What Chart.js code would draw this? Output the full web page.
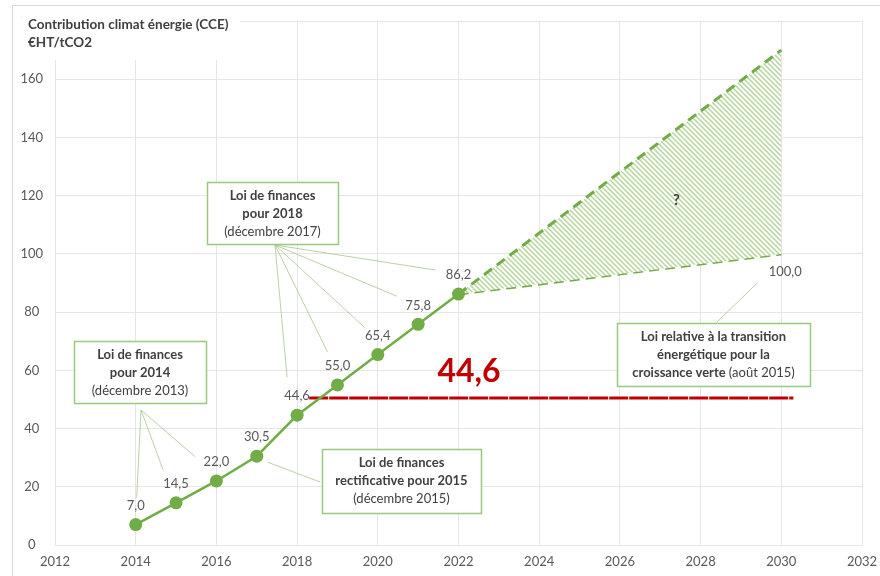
<!DOCTYPE html>
<html>
<head>
<meta charset="utf-8">
<script src="https://cdn.jsdelivr.net/npm/chart.js@4/dist/chart.umd.min.js"></script>
<style>
  html, body { margin: 0; padding: 0; background: #fff; }
  #wrap { width: 880px; height: 576px; }
</style>
</head>
<body>
<div id="wrap"><canvas id="myChart" width="880" height="576"></canvas></div>
<script>
// data
var years = [2014, 2015, 2016, 2017, 2018, 2019, 2020, 2021, 2022];
var cce = [7.0, 14.5, 22.0, 30.5, 44.6, 55.0, 65.4, 75.8, 86.2];
var trendYears = [2022, 2030];
var upperTrend = [86.2, 170];
var lowerTrend = [86.2, 100.0];
var redYears = [2018.3, 2030.3];
var redLevel = [50.5, 50.5];
var yTicks = [0, 20, 40, 60, 80, 100, 120, 140, 160, 180];
var xTicks = [2012, 2014, 2016, 2018, 2020, 2022, 2024, 2026, 2028, 2030, 2032];

function pairs(xs, ys) {
  return xs.map(function (x, i) { return { x: x, y: ys[i] }; });
}
function fmt(v) { return v.toFixed(1).replace('.', ','); }

// hatch pattern for the uncertain area
var pc = document.createElement('canvas');
pc.width = 5; pc.height = 5;
var p = pc.getContext('2d');
p.fillStyle = '#ffffff';
p.fillRect(0, 0, 5, 5);
p.strokeStyle = '#b5d69d';
p.lineWidth = 1.5;
p.beginPath();
p.moveTo(-1, -1); p.lineTo(6, 6);
p.moveTo(-1, 4); p.lineTo(1, 6);
p.moveTo(4, -1); p.lineTo(6, 1);
p.stroke();
var hatch = p.createPattern(pc, 'repeat');

var green = '#70ad47';
var textCol = '#404040';

// boxes with text, leader lines go from an anchor to points (dx,dy from point)
var boxes = [
  { x: 74, y: 341, w: 132, h: 62,
    lines: [[['Loi de finances', true]], [['pour 2014', true]], [['(décembre 2013)', false]]],
    from: [141, 410], to: [[2014, 1, -27], [2015, -13, -33], [2016, -21, -24]] },
  { x: 322, y: 449, w: 159, h: 64,
    lines: [[['Loi de finances', true]], [['rectificative pour 2015', true]], [['(décembre 2015)', false]]],
    from: [320, 482], to: [[2017, 11, 6]] },
  { x: 207, y: 182, w: 131, h: 62,
    lines: [[['Loi de finances', true]], [['pour 2018', true]], [['(décembre 2017)', false]]],
    from: [275, 245], to: [[2018, -10, -38], [2019, -10, -33], [2020, -13, -27], [2021, -21, -28], [2022, -23, -24]] },
  { x: 617, y: 323, w: 193, h: 63,
    lines: [[['Loi relative à la transition', true]], [['énergétique pour la', true]], [['croissance verte ', true], ['(août 2015)', false]]],
    from: [717, 322], to: [['end', -24, 29]] }
];

var overlay = {
  id: 'overlay',
  afterDatasetsDraw: function (chart) {
    var ctx = chart.ctx;
    var xs = chart.scales.x, ys = chart.scales.y;
    ctx.save();
    // leader lines
    ctx.strokeStyle = 'rgba(160,195,135,0.75)';
    ctx.lineWidth = 1;
    boxes.forEach(function (b) {
      b.to.forEach(function (t) {
        var px, py;
        if (t[0] === 'end') {
          px = xs.getPixelForValue(trendYears[1]);
          py = ys.getPixelForValue(lowerTrend[1]);
        } else {
          var i = years.indexOf(t[0]);
          px = xs.getPixelForValue(years[i]);
          py = ys.getPixelForValue(cce[i]);
        }
        ctx.beginPath();
        ctx.moveTo(b.from[0], b.from[1]);
        ctx.lineTo(px + t[1], py + t[2]);
        ctx.stroke();
      });
    });
    // boxes
    boxes.forEach(function (b) {
      ctx.fillStyle = '#fff';
      ctx.fillRect(b.x, b.y, b.w, b.h);
      ctx.strokeStyle = '#9cc77f';
      ctx.lineWidth = 1.5;
      ctx.strokeRect(b.x + 0.5, b.y + 0.5, b.w, b.h);
      ctx.fillStyle = textCol;
      ctx.textBaseline = 'middle';
      b.lines.forEach(function (parts, li) {
        var total = 0;
        parts.forEach(function (pt) {
          ctx.font = (pt[1] ? 'bold ' : '') + '13px Lato';
          total += ctx.measureText(pt[0]).width;
        });
        var cx = b.x + b.w / 2 - total / 2;
        var cy = b.y + 14 + li * 18;
        ctx.textAlign = 'left';
        parts.forEach(function (pt) {
          ctx.font = (pt[1] ? 'bold ' : '') + '13px Lato';
          ctx.fillText(pt[0], cx, cy);
          cx += ctx.measureText(pt[0]).width;
        });
      });
    });
    // value labels
    ctx.font = '13px Lato';
    ctx.fillStyle = '#595959';
    ctx.textAlign = 'center';
    ctx.textBaseline = 'middle';
    chart.getDatasetMeta(0).data.forEach(function (pt, i) {
      ctx.fillText(fmt(cce[i]), pt.x, pt.y - 19);
    });
    var last = chart.getDatasetMeta(2).data[1];
    ctx.fillText(fmt(lowerTrend[1]), last.x + 4, last.y + 18);
    // question mark
    ctx.font = 'bold 15px Lato';
    ctx.fillStyle = textCol;
    ctx.fillText('?', xs.getPixelForValue(2027.4), ys.getPixelForValue(118.5));
    // red figure
    ctx.font = 'bold 32px Lato';
    ctx.fillStyle = '#c00000';
    ctx.fillText('44,6', 469, 372);
    // title with its white backing
    ctx.fillStyle = '#fff';
    ctx.fillRect(22, 10, 218, 50);
    ctx.fillStyle = textCol;
    ctx.textAlign = 'left';
    ctx.font = 'bold 13.5px Lato';
    ctx.fillText('Contribution climat énergie (CCE)', 28, 25);
    ctx.fillText('€HT/tCO2', 28, 43);
    // outer frame
    ctx.strokeStyle = '#d9d9d9';
    ctx.lineWidth = 1;
    ctx.strokeRect(12.5, 5.5, 900, 600);
    ctx.restore();
  }
};

var ctx = document.getElementById('myChart');
var chart = new Chart(ctx, {
  type: 'line',
  data: {
    datasets: [
      {
        label: 'CCE',
        data: pairs(years, cce),
        borderColor: green,
        backgroundColor: green,
        borderWidth: 2.5,
        pointRadius: 6.5,
        pointBackgroundColor: green,
        pointBorderWidth: 0,
        order: 0
      },
      {
        label: 'haut',
        data: pairs(trendYears, upperTrend),
        borderColor: green,
        borderWidth: 3,
        borderDash: [10, 6],
        pointRadius: 0,
        fill: '+1',
        backgroundColor: hatch,
        order: 2
      },
      {
        label: 'bas',
        data: pairs(trendYears, lowerTrend),
        borderColor: green,
        borderWidth: 3,
        borderDash: [10, 6],
        pointRadius: 0,
        fill: false,
        order: 2
      },
      {
        label: 'rouge',
        data: pairs(redYears, redLevel),
        borderColor: '#c00000',
        borderWidth: 3,
        borderDash: [19, 1],
        pointRadius: 0,
        fill: false,
        order: 1
      }
    ]
  },
  options: {
    responsive: false,
    animation: false,
    layout: { padding: { left: 10, top: 21, right: 18, bottom: 0 } },
    plugins: { legend: { display: false }, tooltip: { enabled: false } },
    scales: {
      x: {
        type: 'linear',
        min: 2012,
        max: 2032,
        afterBuildTicks: function (s) { s.ticks = xTicks.map(function (v) { return { value: v }; }); },
        afterFit: function (s) { s.height = 31; s.paddingRight = 0; s.paddingLeft = 0; },
        grid: { color: '#e6e6e6', drawTicks: false },
        border: { color: '#e6e6e6' },
        ticks: {
          padding: 9,
          color: '#595959',
          font: { family: 'Lato', size: 13 },
          callback: function (v) { return String(v); }
        }
      },
      y: {
        min: 0,
        max: 180,
        afterBuildTicks: function (s) { s.ticks = yTicks.map(function (v) { return { value: v }; }); },
        afterFit: function (s) { s.width = 45; },
        grid: { color: '#e6e6e6', drawTicks: false },
        border: { color: '#e6e6e6' },
        ticks: {
          padding: 12,
          crossAlign: 'center',
          color: '#595959',
          font: { family: 'Lato', size: 13 },
          callback: function (v) { return String(v); }
        }
      }
    }
  },
  plugins: [overlay]
});
</script>
</body>
</html>
